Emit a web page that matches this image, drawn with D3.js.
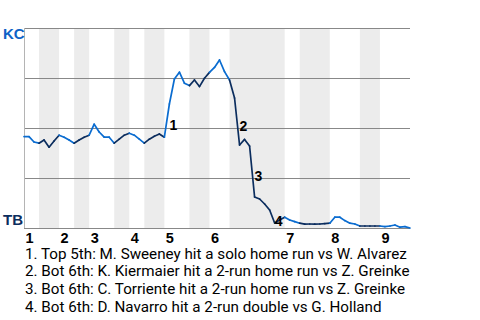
<!DOCTYPE html>
<html>
<head>
<meta charset="utf-8">
<script src="https://cdn.jsdelivr.net/npm/d3@7"></script>
<style>
  body { margin: 0; background: #fff; }
  svg { display: block; }
</style>
</head>
<body>
<div id="chart"></div>
<script>
// KC win probability (%) after each play, play 0 = first pitch
var kcWinProb = [45.7, 45.7, 43, 42.4, 44, 40.4, 43.5, 46.4, 45.4, 44,
  42.4, 44, 45.4, 46.4, 51.9, 48, 45.4, 45.4, 42.4, 44.4,
  46.4, 47.4, 46.4, 44.4, 42.4, 44.4, 45.9, 47, 45.4, 62,
  74.5, 77.9, 72.4, 71.2, 74, 70.7, 74.9, 77.8, 80.3, 84,
  78.2, 74, 65, 41.5, 44.3, 41, 15.5, 14.5, 12, 9,
  2.5, 4, 5.4, 4, 3.2, 2.4, 1.9, 2, 1.9, 2,
  2.2, 2.4, 5.4, 5.4, 3.7, 2.4, 2, 1, 1, 1,
  1, 1, 0.7, 1, 1.5, 0.4, 0.7, 0];

// play index where each half inning ends (top 1st, bot 1st, ...)
var halfInningEnds = [3, 7, 10, 13, 18, 21, 24, 28, 33, 37, 41, 52, 55, 61, 67, 71, 77];
var innings = ["1", "2", "3", "4", "5", "6", "7", "8", "9"];

var keyPlays = [29, 43, 46, 50];
var keyPlayText = [
  "1. Top 5th: M. Sweeney hit a solo home run vs W. Alvarez",
  "2. Bot 6th: K. Kiermaier hit a 2-run home run vs Z. Greinke",
  "3. Bot 6th: C. Torriente hit a 2-run home run vs Z. Greinke",
  "4. Bot 6th: D. Navarro hit a 2-run double vs G. Holland"
];

var width = 480, height = 320;
var plotLeft = 24, plotRight = 410, plotTop = 28, plotBottom = 228;

var svg = d3.select("#chart")
  .append("svg")
    .attr("width", width)
    .attr("height", height);

var x = d3.scaleLinear()
  .domain([0, kcWinProb.length - 1])
  .range([plotLeft, plotRight]);

var y = d3.scaleLinear()
  .domain([0, 100])
  .range([plotBottom, plotTop]);

var starts = [0].concat(halfInningEnds.slice(0, -1));

// shaded bottom halves
svg.append("g")
  .selectAll("rect")
  .data(d3.range(1, halfInningEnds.length, 2))
  .enter().append("rect")
    .attr("x", function(h) { return x(starts[h]); })
    .attr("y", plotTop)
    .attr("width", function(h) { return x(halfInningEnds[h]) - x(starts[h]); })
    .attr("height", plotBottom - plotTop)
    .attr("fill", "#ececec");

// grid lines at 0,25,50,75,100
svg.append("g")
  .attr("transform", "translate(" + plotLeft + ",0)")
  .call(d3.axisRight(y).tickValues([0, 25, 50, 75, 100]).tickSize(plotRight - plotLeft).tickFormat(""))
  .call(function(g) { g.select(".domain").remove(); })
  .selectAll("line")
    .attr("stroke", "#888")
    .attr("stroke-width", 1);

svg.append("line")
  .attr("x1", plotLeft + 0.5).attr("x2", plotLeft + 0.5)
  .attr("y1", plotTop).attr("y2", plotBottom)
  .attr("stroke", "#b4b4b4");

// the line, one segment per play, coloured by team at bat
function halfOf(i) {
  for (var h = 0; h < halfInningEnds.length; h++) {
    if (i <= halfInningEnds[h]) return h;
  }
  return halfInningEnds.length - 1;
}

svg.append("g")
  .selectAll("line")
  .data(d3.range(1, kcWinProb.length))
  .enter().append("line")
    .attr("x1", function(i) { return x(i - 1); })
    .attr("y1", function(i) { return y(kcWinProb[i - 1]); })
    .attr("x2", function(i) { return x(i); })
    .attr("y2", function(i) { return y(kcWinProb[i]); })
    .attr("stroke", function(i) { return halfOf(i) % 2 == 1 ? "#0b2d5e" : "#0a6cd0"; })
    .attr("stroke-width", 1.7)
    .attr("stroke-linecap", "round");

// key play markers
svg.append("g")
  .attr("font-family", "Liberation Sans, Arial, sans-serif")
  .attr("font-weight", "bold")
  .attr("font-size", 14)
  .selectAll("text")
  .data(keyPlays)
  .enter().append("text")
    .attr("x", function(d) { return x(d); })
    .attr("y", function(d) { return (y(kcWinProb[d - 1]) + y(kcWinProb[d])) / 2 + 9; })
    .text(function(d, i) { return i + 1; });

// team labels
svg.append("text")
  .attr("x", 3).attr("y", 38.5)
  .attr("font-family", "Liberation Sans, Arial, sans-serif")
  .attr("font-weight", "bold").attr("font-size", 15)
  .attr("fill", "#0d62c6")
  .text("KC");

svg.append("text")
  .attr("x", 3).attr("y", 224.5)
  .attr("font-family", "Liberation Sans, Arial, sans-serif")
  .attr("font-weight", "bold").attr("font-size", 15)
  .attr("fill", "#0b2d5e")
  .text("TB");

// inning numbers
svg.append("g")
  .attr("font-family", "Liberation Sans, Arial, sans-serif")
  .attr("font-weight", "bold")
  .attr("font-size", 14.5)
  .selectAll("text")
  .data(innings)
  .enter().append("text")
    .attr("x", function(d, i) { return x(starts[i * 2]) + 1.5; })
    .attr("y", 242.5)
    .text(function(d) { return d; });

// key play descriptions
svg.append("g")
  .attr("font-family", "Roboto, sans-serif")
  .attr("font-size", 15.2)
  .selectAll("text")
  .data(keyPlayText)
  .enter().append("text")
    .attr("x", 25)
    .attr("y", function(d, i) { return 258.5 + i * 17.8; })
    .text(function(d) { return d; });
</script>
</body>
</html>
